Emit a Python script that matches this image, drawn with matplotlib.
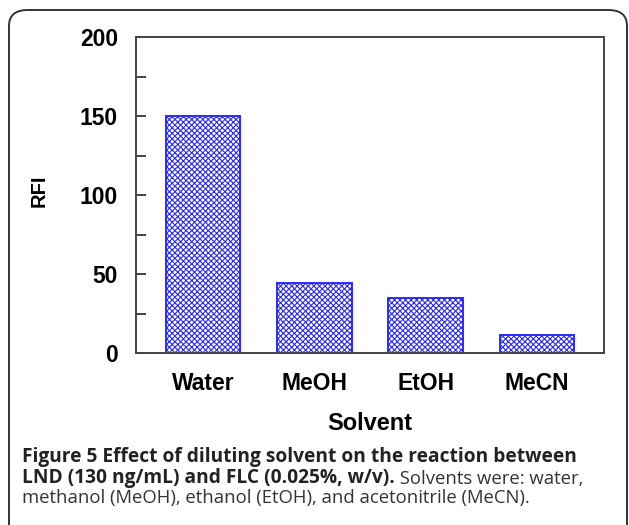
import matplotlib
matplotlib.use("Agg")
import matplotlib.pyplot as plt
from matplotlib.font_manager import FontProperties
from matplotlib.patches import FancyBboxPatch
from matplotlib.ticker import MultipleLocator

solvents = ["Water", "MeOH", "EtOH", "MeCN"]
rfi = [150, 44, 35, 11.5]

caption_bold_1 = "Figure 5 Effect of diluting solvent on the reaction between"
caption_bold_2 = "LND (130 ng/mL) and FLC (0.025%, w/v)."
caption_reg_2 = " Solvents were: water,"
caption_reg_3 = "methanol (MeOH), ethanol (EtOH), and acetonitrile (MeCN)."

plt.rcParams["hatch.linewidth"] = 0.8
plt.rcParams["hatch.color"] = "#4040ff"

fig = plt.figure(figsize=(6.29, 5.25), dpi=100)

# rounded frame around figure + caption
frame = FancyBboxPatch((9 / 629, -0.05), 618 / 629, 1 - 10 / 525 + 0.05,
                       boxstyle="round,pad=0,rounding_size=0.03",
                       transform=fig.transFigure, fill=False,
                       edgecolor="#333333", linewidth=1.4, clip_on=False)
fig.patches.append(frame)

ax = fig.add_axes([136 / 629, 1 - 353 / 525, 468 / 629, 316 / 525])
x = range(len(solvents))
ax.bar(x, rfi, width=0.67, color="white", edgecolor="#2a2aff",
       hatch="xxxxxx", linewidth=1.4)

ax.set_xlim(-0.6, 3.6)
ax.set_ylim(0, 200)
ax.yaxis.set_major_locator(MultipleLocator(50))
ax.yaxis.set_minor_locator(MultipleLocator(25))
ax.set_xticks(list(x))
ax.set_xticklabels(solvents)

tick_font = FontProperties(family="Liberation Sans", weight="bold", size=16.5)
for lab in ax.get_xticklabels() + ax.get_yticklabels():
    lab.set_fontproperties(tick_font)
ax.tick_params(axis="y", which="both", direction="in", length=7, width=1.3,
               color="#333333", pad=13)
ax.tick_params(axis="x", length=0, pad=14)

for sp in ax.spines.values():
    sp.set_color("#444444")
    sp.set_linewidth(1.4)

ax.set_xlabel("Solvent", fontfamily="Liberation Sans", fontweight="bold",
              fontsize=17, labelpad=12)
ax.set_ylabel("RFI", fontfamily="Liberation Sans", fontweight="bold",
              fontsize=14.5)
ax.yaxis.set_label_coords((49 - 136) / 468, 0.515)

cap_font = "Open Sans"
t1 = fig.text(22 / 629, 1 - 462 / 525, caption_bold_1, fontfamily=cap_font,
              fontweight="bold", fontsize=13.8, color="#222222", va="baseline")
t2 = fig.text(22 / 629, 1 - 482.5 / 525, caption_bold_2, fontfamily=cap_font,
              fontweight="bold", fontsize=13.8, color="#222222", va="baseline")
fig.text(22 / 629, 1 - 503 / 525, caption_reg_3, fontfamily=cap_font,
         fontsize=13.3, color="#333333", va="baseline")
ax.annotate(caption_reg_2, xy=(1, 0), xycoords=t2, va="bottom",
            fontfamily=cap_font, fontsize=13.3, color="#333333",
            annotation_clip=False)

fig.savefig("out.png", dpi=100)
